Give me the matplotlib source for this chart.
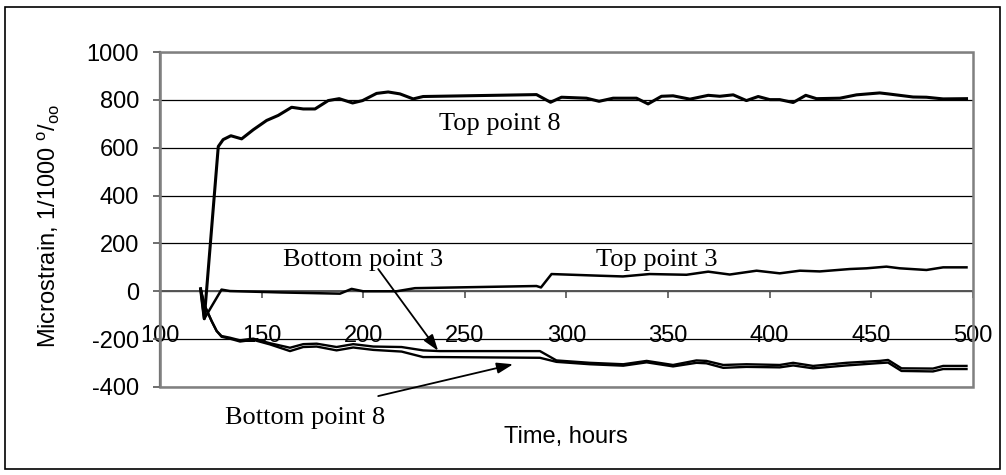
import matplotlib.pyplot as plt
from matplotlib.patches import Rectangle

plt.rcParams['font.family'] = ['Liberation Sans', 'DejaVu Sans']
plt.rcParams['mathtext.fontset'] = 'custom'
plt.rcParams['mathtext.rm'] = 'Liberation Sans'
plt.rcParams['mathtext.it'] = 'Liberation Sans'
plt.rcParams['axes.unicode_minus'] = False

# Top point 8
top8_t = [120, 121.8, 128.7, 131.1, 134.9, 140.2, 145.9, 152.5, 158.2, 164.8, 170.5, 176.3,
          182.8, 188.2, 194.8, 199.7, 206.6, 212.3, 218.1, 224.6, 229.5, 285.3, 292.2, 297.6,
          309.9, 316.1, 323.0, 334.5, 340.2, 346.8, 352.5, 360.8, 369.8, 375.5, 382.1, 388.6,
          394.4, 400.1, 405.0, 411.6, 417.8, 423.1, 434.6, 442.8, 454.2, 458.3, 470.6, 477.2,
          485.4, 496.9]
top8_v = [10, -115, 605, 634, 650, 637, 675, 714, 735, 769, 762, 762,
          797, 805, 787, 797, 827, 833, 825, 804, 814, 822, 790, 811,
          807, 794, 807, 807, 783, 815, 817, 803, 819, 815, 821, 797,
          814, 801, 801, 789, 819, 805, 807, 821, 829, 825, 812, 811,
          804, 805]

# Top point 3
top3_t = [120, 121.8, 130.3, 134.4, 160, 188.6, 194.3, 200, 216.4, 225.5, 285.3, 287.5,
          292.7, 316.5, 327.8, 341, 359.1, 369.8, 380.4, 393.6, 405, 414.9, 424.7, 439.5,
          447.7, 457.5, 464.1, 477.2, 485.4, 496.9]
top3_v = [10, -115, 7, 1, -5, -10, 10, 0, 0, 13, 22, 16,
          72, 65, 62, 72, 69, 82, 70, 86, 75, 86, 83, 93,
          96, 103, 96, 89, 100, 100]

# Bottom points 3 and 8
bot_t = [120, 122, 125.4, 127.9, 130.3, 134.4, 139.4, 145.9, 154.1, 164, 170.5, 177.1,
         186.9, 195.1, 205, 218.9, 229.5, 237.7, 287, 295.1, 311.6, 328, 339.5, 352.5,
         364, 368.9, 377.2, 388.6, 405, 411.6, 421.4, 437.8, 454.2, 458.3, 464.9, 480.4,
         485.4, 496.9]
bot3_v = [10, -60, -124, -166, -187, -194, -205, -198, -217, -236, -221, -219,
          -233, -221, -231, -233, -247, -250, -250, -289, -299, -305, -291, -308,
          -289, -291, -308, -305, -308, -299, -312, -299, -291, -287, -322, -323,
          -312, -312]
bot8_v = [10, -60, -124, -166, -190, -198, -210, -203, -222, -250, -233, -231,
          -247, -235, -245, -252, -275, -275, -278, -295, -305, -311, -297, -314,
          -299, -301, -320, -316, -318, -310, -322, -310, -300, -298, -333, -335,
          -325, -325]

fig = plt.figure(figsize=(10.06, 4.75), dpi=100)
ax = fig.add_axes([0.159, 0.1853, 0.808, 0.7052])

ax.plot(top8_t, top8_v, color='black', lw=2.2, zorder=5)
ax.plot(top3_t, top3_v, color='black', lw=1.8, zorder=5)
ax.plot(bot_t, bot3_v, color='black', lw=1.7, zorder=5)
ax.plot(bot_t, bot8_v, color='black', lw=1.7, zorder=5)

ax.set_xlim(100, 500)
ax.set_ylim(-400, 1000)
ax.set_yticks(range(-400, 1001, 200))
ax.set_xticks(range(100, 501, 50))

ax.yaxis.grid(True, color='black', lw=0.9)
ax.set_axisbelow(True)

for s in ['top', 'right']:
    ax.spines[s].set_visible(False)
ax.spines['left'].set_color('#555555')
ax.spines['left'].set_linewidth(1.6)
ax.spines['bottom'].set_position(('data', 0))
ax.spines['bottom'].set_color('#555555')
ax.spines['bottom'].set_linewidth(1.4)
ax.add_patch(Rectangle((0, 0), 1, 1, transform=ax.transAxes, fill=False,
                       ec='#808080', lw=1.8, clip_on=False, zorder=3))

ax.tick_params(axis='y', direction='out', length=5, width=1.2, color='#555555',
               labelsize=17, pad=10)
ax.tick_params(axis='x', direction='out', length=5, width=1.2, color='#555555',
               labelsize=17, pad=19)

serif = ['Liberation Serif', 'DejaVu Serif']
ax.text(267.3, 673, 'Top point 8', family=serif, fontsize=19, ha='center', va='baseline')
ax.text(344.3, 107, 'Top point 3', family=serif, fontsize=19, ha='center', va='baseline')
ax.text(199.9, 107, 'Bottom point 3', family=serif, fontsize=19, ha='center', va='baseline')
ax.text(171.3, -556, 'Bottom point 8', family=serif, fontsize=19, ha='center', va='baseline',
        clip_on=False)

arrow = dict(arrowstyle='-|>,head_length=0.65,head_width=0.22', color='black',
             lw=1.3, mutation_scale=15, shrinkA=0, shrinkB=0)
ax.annotate('', xy=(236.9, -249), xytext=(207.4, 93), arrowprops=arrow, zorder=6)
ax.annotate('', xy=(273.8, -305), xytext=(207.4, -438), annotation_clip=False,
            arrowprops=arrow, zorder=6)

fig.text(566 / 1006, 1 - 437 / 475, 'Time, hours', fontsize=17, ha='center', va='center')
fig.text(49 / 1006, 1 - 226 / 475, r'Microstrain, 1/1000 $^{\mathrm{o}}/_{\mathrm{oo}}$',
         fontsize=17, rotation=90, ha='center', va='center')

fig.add_artist(Rectangle((5 / 1006, 1 - 469 / 475), 995 / 1006, 462 / 475,
                         transform=fig.transFigure, fill=False, ec='black', lw=1.2))

fig.savefig('out.png', dpi=100)
